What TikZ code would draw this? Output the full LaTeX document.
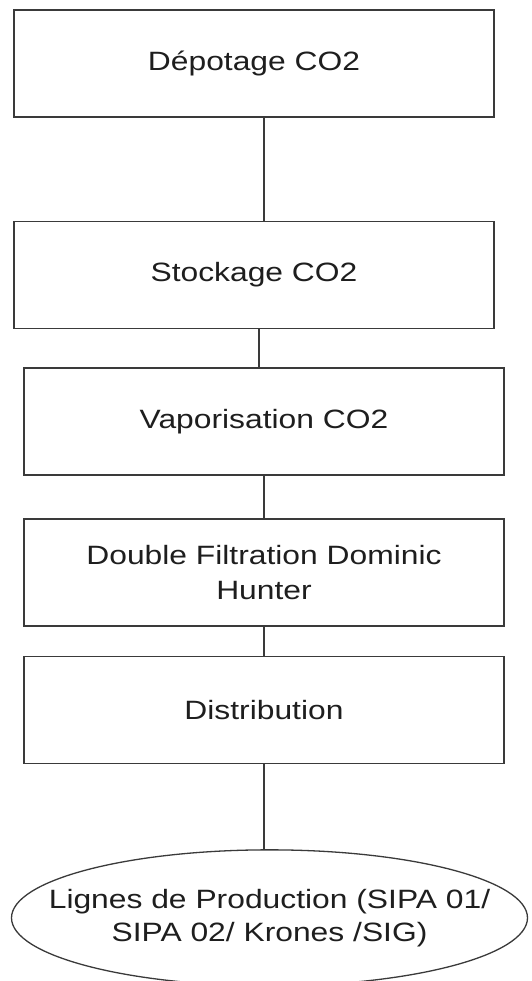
\documentclass[tikz,border=0pt]{standalone}
\usepackage{fontspec}
\setmainfont{Liberation Sans}[FakeStretch=1.2]
\usepackage{xcolor}
\usetikzlibrary{positioning, shapes.geometric}
\definecolor{edge}{HTML}{3A3A3A}
\definecolor{txt}{HTML}{1E1E1E}

\begin{document}
\begin{tikzpicture}[font=\fontsize{26.5}{35}\selectfont, text=txt,
      box/.style={draw=edge, line width=1.6pt, minimum width=480pt, minimum height=107pt, inner sep=0pt, align=center},
      oval/.style={ellipse, draw=edge, line width=1.3pt, minimum width=516pt, minimum height=136pt, inner sep=0pt},
      link/.style={draw=edge, line width=1.3pt}]
    \useasboundingbox (0,0) rectangle (531pt,-981pt);
    \node[box] (depot) at (254pt,-63.5pt) {Dépotage CO2};
    \node[box, below=103pt of depot] (stock) {Stockage CO2};
    \node[box, below=38pt of stock, xshift=10pt] (vapo) {Vaporisation CO2};
    \node[box, below=42pt of vapo] (filtr) {Double Filtration Dominic\\Hunter};
    \node[box, below=29pt of filtr] (distr) {Distribution};
    \node[oval, below=85pt of distr, xshift=5.5pt,
          label={[align=center, font=\fontsize{26.5}{33}\selectfont]center:Lignes de Production (SIPA 01/\\SIPA 02/ Krones /SIG)}] (lignes) {};
    \draw[link] (depot.south -| distr.south) -- (stock.north -| distr.south);
    \draw[link] ([xshift=5pt]stock.south) -- ([xshift=5pt]stock.south |- vapo.north);
    \draw[link] (vapo.south) -- (filtr.north);
    \draw[link] (filtr.south) -- (distr.north);
    \draw[link] (distr.south) -- (distr.south |- lignes.north);
  \end{tikzpicture}
\end{document}
